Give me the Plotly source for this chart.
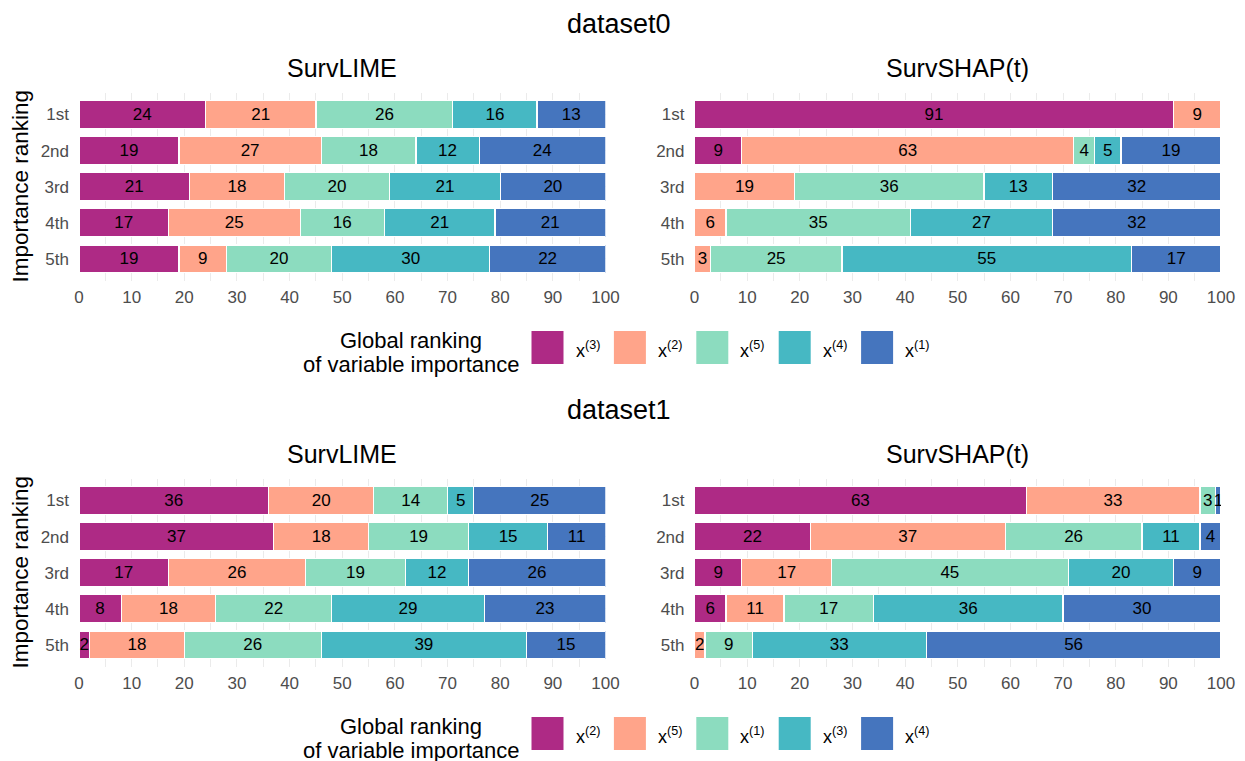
import plotly.graph_objects as go

# the page body adds an 8px margin around the figure, so the figure is
# made 8px smaller on each axis and every layout position is shifted by 8px
W, H = 1245, 761
OFF = 8
FW, FH = W - OFF, H - OFF
FONT = "Liberation Sans, Arial, sans-serif"

ranks = ["1st", "2nd", "3rd", "4th", "5th"]
palette = ["#AE2A85", "#FFA48A", "#8CDCBF", "#46B8C3", "#4575BE"]

ds0_vars = ["x<sup>(3)</sup>", "x<sup>(2)</sup>", "x<sup>(5)</sup>", "x<sup>(4)</sup>", "x<sup>(1)</sup>"]
ds1_vars = ["x<sup>(2)</sup>", "x<sup>(5)</sup>", "x<sup>(1)</sup>", "x<sup>(3)</sup>", "x<sup>(4)</sup>"]

# dataset0 - SurvLIME (per variable, values for ranks 1st..5th)
d0_lime_x3 = [24, 19, 21, 17, 19]
d0_lime_x2 = [21, 27, 18, 25, 9]
d0_lime_x5 = [26, 18, 20, 16, 20]
d0_lime_x4 = [16, 12, 21, 21, 30]
d0_lime_x1 = [13, 24, 20, 21, 22]

# dataset0 - SurvSHAP(t)
d0_shap_x3 = [91, 9, 0, 0, 0]
d0_shap_x2 = [9, 63, 19, 6, 3]
d0_shap_x5 = [0, 4, 36, 35, 25]
d0_shap_x4 = [0, 5, 13, 27, 55]
d0_shap_x1 = [0, 19, 32, 32, 17]

# dataset1 - SurvLIME
d1_lime_x2 = [36, 37, 17, 8, 2]
d1_lime_x5 = [20, 18, 26, 18, 18]
d1_lime_x1 = [14, 19, 19, 22, 26]
d1_lime_x3 = [5, 15, 12, 29, 39]
d1_lime_x4 = [25, 11, 26, 23, 15]

# dataset1 - SurvSHAP(t)
d1_shap_x2 = [63, 22, 9, 6, 0]
d1_shap_x5 = [33, 37, 17, 11, 2]
d1_shap_x1 = [3, 26, 45, 17, 9]
d1_shap_x3 = [0, 11, 20, 36, 33]
d1_shap_x4 = [1, 4, 9, 30, 56]

x_ticks = [0, 10, 20, 30, 40, 50, 60, 70, 80, 90, 100]

dataset_titles = ["dataset0", "dataset1"]
method_titles = ["SurvLIME", "SurvSHAP(t)"]
y_title = "Importance ranking"
legend_title_lines = ["Global ranking", "of variable importance"]


def px_x(p):
    return (p - OFF) / FW


def px_y(p):
    return 1 - (p - OFF) / FH


# panels: (series list, var names, axis suffix, x px range, y px range)
panels = [
    ([d0_lime_x3, d0_lime_x2, d0_lime_x5, d0_lime_x4, d0_lime_x1], ds0_vars, "", (79, 605.5), (92.8, 280.5)),
    ([d0_shap_x3, d0_shap_x2, d0_shap_x5, d0_shap_x4, d0_shap_x1], ds0_vars, "2", (694.5, 1221), (92.8, 280.5)),
    ([d1_lime_x2, d1_lime_x5, d1_lime_x1, d1_lime_x3, d1_lime_x4], ds1_vars, "3", (79, 605.5), (478.8, 666.5)),
    ([d1_shap_x2, d1_shap_x5, d1_shap_x1, d1_shap_x3, d1_shap_x4], ds1_vars, "4", (694.5, 1221), (478.8, 666.5)),
]

fig = go.Figure()
layout = dict(
    width=FW, height=FH, autosize=False,
    margin=dict(l=0, r=0, t=0, b=0, pad=0, autoexpand=False),
    paper_bgcolor="white", plot_bgcolor="white",
    barmode="stack", bargap=0.23,
    showlegend=False,
    font=dict(family=FONT, color="black"),
    uniformtext=dict(minsize=17, mode="show"),
)

for series, names, suf, (x0, x1), (y0, y1) in panels:
    for vals, name, col in zip(series, names, palette):
        fig.add_trace(go.Bar(
            y=ranks, x=vals, orientation="h", name=name,
            marker=dict(color=col, line=dict(color="white", width=1.2)),
            text=[str(v) if v > 0 else "" for v in vals],
            textposition="inside", insidetextanchor="middle",
            insidetextfont=dict(color="black", size=17, family=FONT),
            constraintext="none",
            xaxis="x" + suf, yaxis="y" + suf,
            hoverinfo="x+y+name",
        ))
    layout["xaxis" + suf] = dict(
        domain=[px_x(x0), px_x(x1)], anchor="y" + suf, range=[0, 100],
        automargin=False,
        tickvals=x_ticks, showgrid=True, gridcolor="#EBEBEB", gridwidth=1.1,
        minor=dict(dtick=5, showgrid=True, gridcolor="#EBEBEB", gridwidth=0.55),
        zeroline=False, showline=False, ticks="",
        tickfont=dict(size=17, color="#4D4D4D", family=FONT),
        ticklabelstandoff=4,
    )
    layout["yaxis" + suf] = dict(
        domain=[px_y(y1), px_y(y0)], anchor="x" + suf,
        automargin=False,
        type="category", categoryorder="array", categoryarray=ranks,
        range=[4.6, -0.6], showgrid=True, gridcolor="#EBEBEB",
        zeroline=False, showline=False, ticks="",
        tickfont=dict(size=17, color="#4D4D4D", family=FONT),
        ticklabelstandoff=9,
    )

annotations = []
shapes = []
block_offset = [0, 386]
for bi, off in enumerate(block_offset):
    annotations.append(dict(text=dataset_titles[bi], x=px_x(619), y=px_y(24 + off),
                            xref="paper", yref="paper", showarrow=False,
                            font=dict(size=27, family=FONT, color="black"),
                            xanchor="center", yanchor="middle"))
    for mi, cx in enumerate([342, 958]):
        annotations.append(dict(text=method_titles[mi], x=px_x(cx), y=px_y(68 + off),
                                xref="paper", yref="paper", showarrow=False,
                                font=dict(size=25, family=FONT, color="black"),
                                xanchor="center", yanchor="middle"))
    annotations.append(dict(text=y_title, x=px_x(21), y=px_y(186.6 + off),
                            xref="paper", yref="paper", showarrow=False, textangle=-90,
                            font=dict(size=22.5, family=FONT, color="black"),
                            xanchor="center", yanchor="middle"))
    # legend title (two centred lines, block right-aligned)
    for li, line in enumerate(legend_title_lines):
        annotations.append(dict(text=line, x=px_x(411), y=px_y(340 + li * 24.5 + off),
                                xref="paper", yref="paper", showarrow=False,
                                font=dict(size=22, family=FONT, color="black"),
                                xanchor="center", yanchor="middle"))
    names = ds0_vars if bi == 0 else ds1_vars
    for k, (name, col) in enumerate(zip(names, palette)):
        kx = 531.5 + k * 82.4
        shapes.append(dict(type="rect", xref="paper", yref="paper",
                           x0=px_x(kx), x1=px_x(kx + 32),
                           y0=px_y(331 + off + 33), y1=px_y(331 + off),
                           fillcolor=col, line=dict(width=0)))
        annotations.append(dict(text=name, x=px_x(kx + 42), y=px_y(349 + off),
                                xref="paper", yref="paper", showarrow=False,
                                font=dict(size=18, family=FONT, color="black"),
                                xanchor="left", yanchor="middle"))

layout["annotations"] = annotations
layout["shapes"] = shapes
fig.update_layout(**layout)
fig.write_html("out.html")
